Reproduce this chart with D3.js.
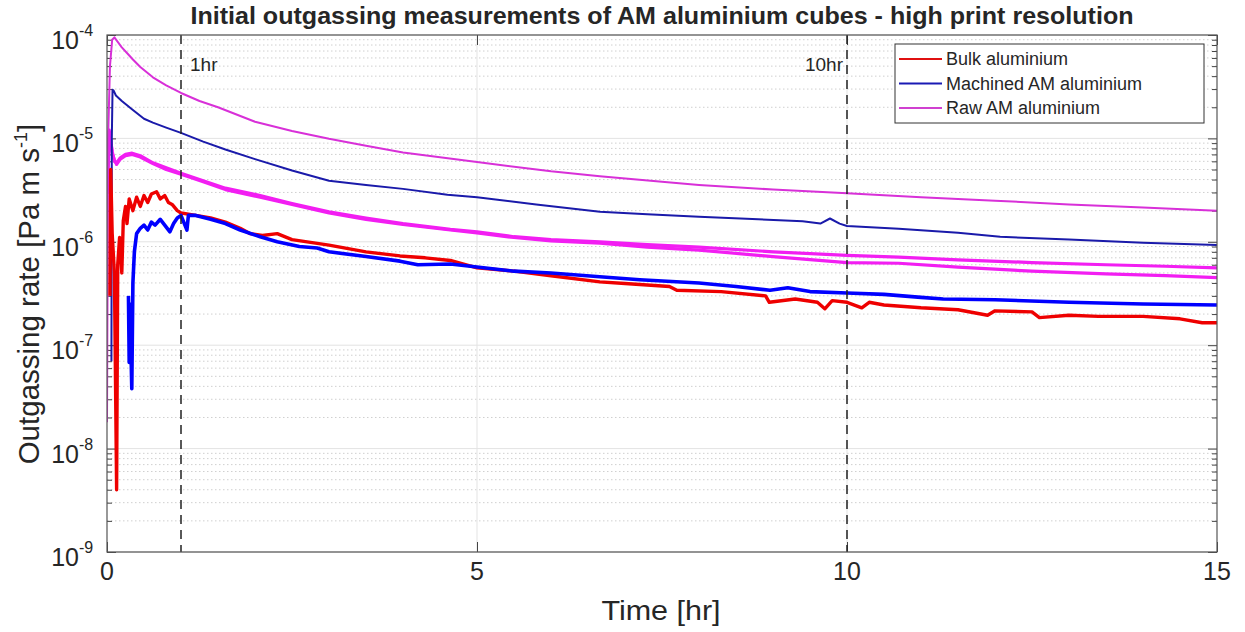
<!DOCTYPE html>
<html>
<head>
<meta charset="utf-8">
<script src="https://cdn.jsdelivr.net/npm/d3@7"></script>
<style>
  body { margin: 0; background: #fff; }
  text { font-family: "Liberation Sans", Arial, sans-serif; fill: #262626; }
</style>
</head>
<body>
<div id="chart-area"></div>
<script>
// time in hours, outgassing rate in Pa m s^-1

var bulkTime = [0.04, 0.05, 0.07, 0.1, 0.13, 0.145, 0.17, 0.2, 0.22, 0.25, 0.27, 0.3, 0.35, 0.4, 0.45, 0.5, 0.55, 0.6, 0.67, 0.72, 0.78, 0.83, 0.88, 0.95, 1.0, 1.1, 1.2, 1.4, 1.6, 1.8, 1.93, 2.1, 2.3, 2.5, 3.0, 3.5, 3.96, 4.3, 4.64, 5, 5.5, 6, 6.66, 7.0, 7.6, 7.7, 8.3, 8.9, 8.95, 9.3, 9.6, 9.7, 9.8, 10, 10.2, 10.3, 10.5, 11, 11.5, 11.9, 12, 12.5, 12.6, 13, 13.4, 14, 14.5, 14.8, 15];
var bulkRate = [3e-7, 5e-6, 1.2e-6, 5e-7, 4e-9, 6e-7, 1.1e-6, 5e-7, 1.6e-6, 2.2e-6, 1.5e-6, 2.6e-6, 2.0e-6, 2.7e-6, 2.2e-6, 2.8e-6, 2.4e-6, 2.9e-6, 3.05e-6, 2.6e-6, 2.8e-6, 2.4e-6, 2.3e-6, 2.0e-6, 1.9e-6, 1.85e-6, 1.8e-6, 1.7e-6, 1.55e-6, 1.35e-6, 1.2e-6, 1.15e-6, 1.2e-6, 1.05e-6, 9.3e-7, 8e-7, 7.3e-7, 7.0e-7, 6.6e-7, 5.6e-7, 5.2e-7, 4.7e-7, 4.1e-7, 3.95e-7, 3.7e-7, 3.4e-7, 3.3e-7, 3.0e-7, 2.6e-7, 2.8e-7, 2.6e-7, 2.25e-7, 2.7e-7, 2.6e-7, 2.3e-7, 2.6e-7, 2.45e-7, 2.3e-7, 2.2e-7, 1.95e-7, 2.15e-7, 2.1e-7, 1.85e-7, 1.95e-7, 1.9e-7, 1.9e-7, 1.8e-7, 1.65e-7, 1.65e-7];

var machinedHiTime = [0.06, 0.065, 0.075, 0.09, 0.12, 0.2, 0.35, 0.5, 0.62, 0.8, 1, 1.3, 1.6, 2, 2.5, 3, 3.5, 4, 4.6, 5, 5.8, 6.66, 7.3, 8, 8.8, 9.4, 9.64, 9.77, 9.9, 10, 10.7, 11.5, 12.07, 13, 14, 15];
var machinedHiRate = [7e-8, 1e-5, 2.95e-5, 2.9e-5, 2.6e-5, 2.3e-5, 1.88e-5, 1.55e-5, 1.42e-5, 1.27e-5, 1.13e-5, 9.3e-6, 7.8e-6, 6.3e-6, 4.9e-6, 3.9e-6, 3.55e-6, 3.25e-6, 2.85e-6, 2.7e-6, 2.3e-6, 1.95e-6, 1.85e-6, 1.75e-6, 1.65e-6, 1.58e-6, 1.5e-6, 1.68e-6, 1.5e-6, 1.42e-6, 1.34e-6, 1.22e-6, 1.12e-6, 1.05e-6, 0.98e-6, 0.93e-6];

var machinedLoTime = [0.29, 0.30, 0.31, 0.335, 0.35, 0.37, 0.4, 0.45, 0.5, 0.55, 0.6, 0.65, 0.72, 0.78, 0.85, 0.9, 0.95, 1.0, 1.08, 1.1, 1.2, 1.4, 1.6, 1.8, 2.07, 2.3, 2.6, 2.84, 3.0, 3.5, 3.96, 4.2, 4.64, 5, 5.5, 6, 6.66, 7.2, 8, 8.5, 8.96, 9.2, 9.5, 10, 10.5, 11, 11.3, 12, 13, 14, 15];
var machinedLoRate = [3e-7, 6.8e-8, 2.5e-7, 3.8e-8, 4e-7, 8e-7, 1.2e-6, 1.35e-6, 1.45e-6, 1.3e-6, 1.55e-6, 1.45e-6, 1.65e-6, 1.45e-6, 1.25e-6, 1.5e-6, 1.7e-6, 1.8e-6, 1.3e-6, 1.8e-6, 1.8e-6, 1.65e-6, 1.5e-6, 1.3e-6, 1.12e-6, 1.0e-6, 0.9e-6, 8.7e-7, 8e-7, 7.2e-7, 6.5e-7, 6e-7, 6.1e-7, 5.7e-7, 5.2e-7, 5.0e-7, 4.6e-7, 4.3e-7, 4.0e-7, 3.7e-7, 3.4e-7, 3.6e-7, 3.3e-7, 3.2e-7, 3.1e-7, 2.9e-7, 2.8e-7, 2.75e-7, 2.6e-7, 2.5e-7, 2.45e-7];

var rawHiTime = [0, 0.015, 0.04, 0.07, 0.1, 0.15, 0.2, 0.27, 0.35, 0.45, 0.62, 0.8, 1, 1.25, 1.5, 2, 2.5, 3, 3.5, 4, 5, 6, 6.66, 7.5, 8, 9, 10, 11, 12, 13, 14, 15];
var rawHiRate = [1.8e-8, 1e-5, 5e-5, 9e-5, 9.5e-5, 8.5e-5, 7.6e-5, 6.7e-5, 5.8e-5, 4.9e-5, 3.9e-5, 3.25e-5, 2.75e-5, 2.3e-5, 2.0e-5, 1.45e-5, 1.18e-5, 9.9e-6, 8.5e-6, 7.3e-6, 5.9e-6, 4.8e-6, 4.3e-6, 3.8e-6, 3.55e-6, 3.2e-6, 2.95e-6, 2.7e-6, 2.5e-6, 2.3e-6, 2.15e-6, 2.0e-6];

var rawMidATime = [0.01, 0.03, 0.045, 0.07, 0.1, 0.13, 0.18, 0.25, 0.34, 0.45, 0.62, 0.8, 1, 1.3, 1.6, 2.07, 2.5, 3, 3.5, 4, 4.64, 5, 5.5, 6, 6.66, 7.3, 8, 9, 10, 10.7, 11.5, 12.5, 13.5, 14.3, 15];
var rawMidARate = [3e-6, 1.2e-5, 1.0e-5, 7.5e-6, 6.0e-6, 5.8e-6, 6.5e-6, 7.0e-6, 7.2e-6, 6.8e-6, 5.8e-6, 5.2e-6, 4.6e-6, 3.9e-6, 3.3e-6, 2.8e-6, 2.35e-6, 1.95e-6, 1.7e-6, 1.5e-6, 1.32e-6, 1.25e-6, 1.12e-6, 1.05e-6, 1.0e-6, 0.94e-6, 0.89e-6, 0.8e-6, 0.74e-6, 0.71e-6, 0.67e-6, 0.63e-6, 0.6e-6, 0.58e-6, 0.56e-6];

var rawMidBTime = [0.02, 0.04, 0.07, 0.1, 0.13, 0.18, 0.25, 0.34, 0.45, 0.62, 0.8, 1, 1.3, 1.6, 2.07, 2.5, 3, 3.5, 4, 4.64, 5, 5.5, 6, 6.66, 7.3, 8, 9, 10, 10.7, 11.5, 12.5, 13.5, 14.3, 15];
var rawMidBRate = [8e-6, 1.1e-5, 7.2e-6, 6.2e-6, 5.6e-6, 6.3e-6, 6.8e-6, 7.0e-6, 6.6e-6, 5.7e-6, 5.0e-6, 4.5e-6, 3.8e-6, 3.2e-6, 2.7e-6, 2.3e-6, 1.9e-6, 1.65e-6, 1.47e-6, 1.3e-6, 1.22e-6, 1.1e-6, 1.02e-6, 0.97e-6, 0.89e-6, 0.83e-6, 0.72e-6, 0.63e-6, 0.62e-6, 0.57e-6, 0.52e-6, 0.49e-6, 0.47e-6, 0.45e-6];

var legendNames = ["Bulk aluminium", "Machined AM aluminium", "Raw AM aluminium"];
var xTicks = [0, 5, 10, 15];
var yExponents = [-9, -8, -7, -6, -5, -4];
var markerHours = [1, 10];
var markerLabels = ["1hr", "10hr"];

var width = 1245, height = 632;
var plotLeft = 107, plotRight = 1217, plotTop = 35, plotBottom = 552;

var svg = d3.select("#chart-area").append("svg")
    .attr("width", width)
    .attr("height", height);

var x = d3.scaleLinear().domain([0, 15]).range([plotLeft, plotRight]);
var y = d3.scaleLog().domain([1e-9, 1e-4]).range([plotBottom, plotTop]);

// grid
var minorVals = [];
yExponents.slice(0, -1).forEach((e) => {
    for (var k = 2; k <= 9; k++) minorVals.push(k * Math.pow(10, e));
});
var majorVals = yExponents.map((e) => Math.pow(10, e));

svg.append("g").selectAll("line").data(minorVals).enter().append("line")
    .attr("x1", plotLeft).attr("x2", plotRight)
    .attr("y1", (d) => y(d)).attr("y2", (d) => y(d))
    .attr("stroke", "#cfcfcf").attr("stroke-dasharray", "1.5,2.5");
svg.append("g").selectAll("line").data(majorVals).enter().append("line")
    .attr("x1", plotLeft).attr("x2", plotRight)
    .attr("y1", (d) => y(d)).attr("y2", (d) => y(d))
    .attr("stroke", "#e3e3e3");
svg.append("g").selectAll("line").data([5, 10]).enter().append("line")
    .attr("x1", (d) => x(d)).attr("x2", (d) => x(d))
    .attr("y1", plotTop).attr("y2", plotBottom)
    .attr("stroke", "#e3e3e3");

// ticks (inside, on all four sides)
function tickAxis(axis, tx, ty) {
    var g = svg.append("g").attr("transform", "translate(" + tx + "," + ty + ")").call(axis);
    g.select(".domain").remove();
    g.selectAll("text").remove();
    g.selectAll("line").attr("stroke", "#444");
    return g;
}
tickAxis(d3.axisLeft(y).tickValues(majorVals).tickSizeInner(-9), plotLeft, 0);
tickAxis(d3.axisLeft(y).tickValues(minorVals).tickSizeInner(-5), plotLeft, 0);
tickAxis(d3.axisRight(y).tickValues(majorVals).tickSizeInner(-9), plotRight, 0);
tickAxis(d3.axisRight(y).tickValues(minorVals).tickSizeInner(-5), plotRight, 0);
tickAxis(d3.axisBottom(x).tickValues(xTicks).tickSizeInner(-10), 0, plotBottom);
tickAxis(d3.axisTop(x).tickValues(xTicks).tickSizeInner(-10), 0, plotTop);

// clip
svg.append("clipPath").attr("id", "plot-clip").append("rect")
    .attr("x", plotLeft).attr("y", plotTop)
    .attr("width", plotRight - plotLeft).attr("height", plotBottom - plotTop);

var line = d3.line()
    .x((d) => x(d[0]))
    .y((d) => y(d[1]));

function zip(t, v) { return t.map((d, i) => [d, v[i]]); }

var runs = [
    { t: rawMidATime, v: rawMidARate, color: "#f21ef2", w: 3.2 },
    { t: rawMidBTime, v: rawMidBRate, color: "#f21ef2", w: 3.2 },
    { t: rawHiTime, v: rawHiRate, color: "#d830d8", w: 2 },
    { t: machinedHiTime, v: machinedHiRate, color: "#1a1aaa", w: 2 },
    { t: bulkTime, v: bulkRate, color: "#ee0000", w: 3.4 },
    { t: machinedLoTime, v: machinedLoRate, color: "#0000ff", w: 3.6 }
];

var plot = svg.append("g").attr("clip-path", "url(#plot-clip)");
runs.forEach((r) => {
    plot.append("path")
        .datum(zip(r.t, r.v))
        .attr("d", line)
        .attr("fill", "none")
        .attr("stroke", r.color)
        .attr("stroke-width", r.w)
        .attr("stroke-linejoin", "round");
});

// marker lines
svg.append("g").selectAll("line").data(markerHours).enter().append("line")
    .attr("x1", (d) => x(d)).attr("x2", (d) => x(d))
    .attr("y1", plotTop).attr("y2", plotBottom)
    .attr("stroke", "#222").attr("stroke-width", 1.5)
    .attr("stroke-dasharray", "9,6");
svg.append("text").attr("x", x(1) + 9).attr("y", 71)
    .attr("font-size", 19).text(markerLabels[0]);
svg.append("text").attr("x", x(10) - 4).attr("y", 71)
    .attr("text-anchor", "end").attr("font-size", 19).text(markerLabels[1]);

// frame
svg.append("rect").attr("x", plotLeft).attr("y", plotTop)
    .attr("width", plotRight - plotLeft).attr("height", plotBottom - plotTop)
    .attr("fill", "none").attr("stroke", "#555").attr("stroke-width", 1.2);

// tick labels
var yl = svg.append("g").selectAll("g").data(yExponents).enter().append("g");
yl.append("text")
    .attr("x", 79).attr("y", (d) => y(Math.pow(10, d)) + 14)
    .attr("text-anchor", "end").attr("font-size", 25).text("10");
yl.append("text")
    .attr("x", 79).attr("y", (d) => y(Math.pow(10, d)) + 1)
    .attr("font-size", 16).text((d) => d);

svg.append("g").selectAll("text").data(xTicks).enter().append("text")
    .attr("x", (d) => x(d)).attr("y", 580)
    .attr("text-anchor", "middle").attr("font-size", 25)
    .text((d) => d);

// titles (the source figure is slightly stretched sideways)
svg.append("text").attr("transform", "translate(662,24) scale(1.09,1)")
    .attr("text-anchor", "middle").attr("font-size", 23).attr("font-weight", "bold")
    .attr("fill", "#111")
    .text("Initial outgassing measurements of AM aluminium cubes - high print resolution");

svg.append("text").attr("transform", "translate(661,620) scale(1.09,1)")
    .attr("text-anchor", "middle").attr("font-size", 28)
    .text("Time [hr]");

var ylab = svg.append("text")
    .attr("transform", "translate(39,294) rotate(-90)")
    .attr("text-anchor", "middle").attr("font-size", 29.5);
ylab.append("tspan").text("Outgassing rate [Pa m s");
ylab.append("tspan").attr("font-size", 18).attr("dy", -12).text("-1");
ylab.append("tspan").attr("dy", 12).text("]");

// legend
var legendColors = ["#e01010", "#1a1ab4", "#d040d0"];
var lg = svg.append("g");
lg.append("rect").attr("x", 895).attr("y", 44).attr("width", 309).attr("height", 79)
    .attr("fill", "#fff").attr("stroke", "#333").attr("stroke-width", 1);
var items = lg.selectAll("g").data(legendNames).enter().append("g")
    .attr("transform", (d, i) => "translate(0," + (59 + i * 24.5) + ")");
items.append("line").attr("x1", 899).attr("x2", 942)
    .attr("stroke", (d, i) => legendColors[i]).attr("stroke-width", 2);
items.append("text").attr("x", 946).attr("y", 6)
    .attr("font-size", 18).text((d) => d);
</script>
</body>
</html>
